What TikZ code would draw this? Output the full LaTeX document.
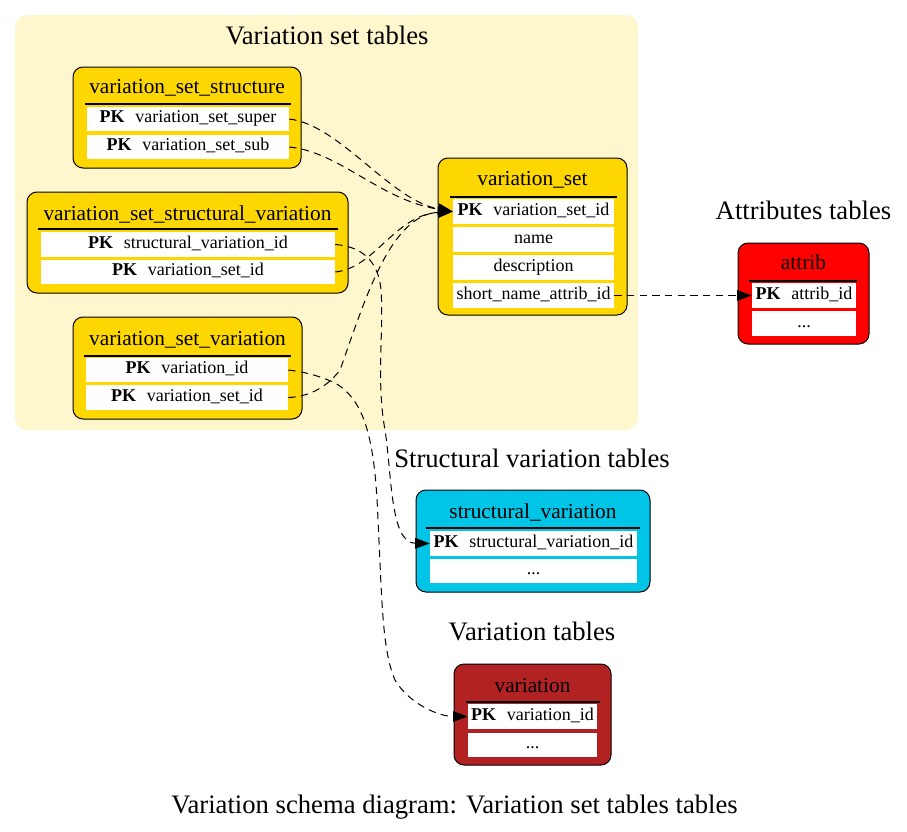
\documentclass[tikz,border=0pt]{standalone}
\usepackage{fontspec}
\setmainfont{Liberation Serif}
\usetikzlibrary{arrows.meta}

\definecolor{clusterbg}{HTML}{FEF7CE}
\definecolor{tgold}{HTML}{FFD700}
\definecolor{tred}{HTML}{FF0000}
\definecolor{tcyan}{HTML}{00C5E6}
\definecolor{tbrick}{HTML}{B22222}

\tikzset{
  tablebox/.style={draw=black, line width=0.75pt, rounded corners=7.5pt, inner sep=0pt},
  fieldcell/.style={fill=white, inner sep=0pt, font=\fontsize{13.5}{16}\selectfont,
    text height=8pt, text depth=2.4pt},
  tabletitle/.style={anchor=base, inner sep=0pt, font=\fontsize{16}{19}\selectfont},
  grouptitle/.style={anchor=base, inner sep=0pt, font=\fontsize{20}{24}\selectfont},
  titlerule/.style={line width=1.1pt},
  fk/.style={line width=0.75pt, dash pattern=on 5.5pt off 4pt,
    -{Triangle[length=11pt,width=8pt]}},
}

% table frame: name, x1, y1, x2, y2, colour (pixel units)
\newcommand\tframe[6]{%
  \node[tablebox, fill=#6, minimum width={(#4-#2)*0.75pt}, minimum height={(#5-#3)*0.75pt}]
    (#1) at ({(#2+#4)/2},{(#3+#5)/2}) {};}
% field cell: name, x1, y1, x2, y2, text
\newcommand\fcell[6]{%
  \node[fieldcell, minimum width={(#4-#2)*0.75pt}, minimum height={(#5-#3)*0.75pt}]
    (#1) at ({(#2+#4)/2},{(#3+#5)/2}) {#6};}
\newcommand\pkey[1]{\textbf{PK}\hspace{0.6em}#1}

\begin{document}
\begin{tikzpicture}[x=0.75pt,y=-0.75pt]
\useasboundingbox (0,0) rectangle (907,832);
\fill[white] (0,0) rectangle (907,832);

% variation set group
\node[fill=clusterbg, rounded corners=9pt, inner sep=0pt,
  minimum width={623*0.75pt}, minimum height={415*0.75pt}] (setgroup) at (326.5,222.5) {};
\node[grouptitle] (lbl-set) at (327,44.5) {Variation set tables};

% variation_set_structure
\tframe{vss}{73}{67}{301}{168}{tgold}
\node[tabletitle] (vss-title) at (187,93) {variation\_set\_structure};
\draw[titlerule] (85,104) -- (291,104);
\fcell{vss-super}{87}{107}{289}{131}{\pkey{variation\_set\_super}}
\fcell{vss-sub}{87}{135}{289}{159}{\pkey{variation\_set\_sub}}

% variation_set_structural_variation
\tframe{vssv}{27}{192}{348}{293}{tgold}
\node[tabletitle] (vssv-title) at (187.5,220) {variation\_set\_structural\_variation};
\draw[titlerule] (38,229) -- (338,229);
\fcell{vssv-sv}{41}{232}{335}{257}{\pkey{structural\_variation\_id}}
\fcell{vssv-set}{41}{260}{335}{284}{\pkey{variation\_set\_id}}

% variation_set_variation
\tframe{vsv}{73}{317}{302}{419}{tgold}
\node[tabletitle] (vsv-title) at (187.5,345) {variation\_set\_variation};
\draw[titlerule] (84,356) -- (291,356);
\fcell{vsv-var}{86}{358}{288}{382}{\pkey{variation\_id}}
\fcell{vsv-set}{86}{385}{288}{410}{\pkey{variation\_set\_id}}

% variation_set
\tframe{vs}{438}{158}{627}{315}{tgold}
\node[tabletitle] (vs-title) at (532.5,185) {variation\_set};
\draw[titlerule] (450,197) -- (617,197);
\fcell{vs-id}{453}{199}{614}{224}{\pkey{variation\_set\_id}}
\fcell{vs-name}{453}{227}{614}{252}{name}
\fcell{vs-desc}{453}{255}{614}{280}{description}
\fcell{vs-attr}{453}{283}{614}{308}{short\_name\_attrib\_id}

% attrib
\node[grouptitle] (lbl-attrib) at (803.5,219.5) {Attributes tables};
\tframe{attrib}{738}{243}{869}{344}{tred}
\node[tabletitle] (attrib-title) at (803.5,269) {attrib};
\draw[titlerule] (749,281) -- (857,281);
\fcell{attrib-id}{752}{283}{856}{308}{\pkey{attrib\_id}}
\fcell{attrib-more}{752}{311}{856}{336}{...}

% structural_variation
\node[grouptitle] (lbl-sv) at (532,467.5) {Structural variation tables};
\tframe{sv}{416}{490}{650}{592}{tcyan}
\node[tabletitle] (sv-title) at (533,518) {structural\_variation};
\draw[titlerule] (426,528) -- (640,528);
\fcell{sv-id}{430}{531}{637}{556}{\pkey{structural\_variation\_id}}
\fcell{sv-more}{430}{559}{637}{583}{...}

% variation
\node[grouptitle] (lbl-var) at (532,640.5) {Variation tables};
\tframe{var}{454}{664}{611}{765}{tbrick}
\node[tabletitle] (var-title) at (532.5,692) {variation};
\draw[titlerule] (466,702) -- (600,702);
\fcell{var-id}{468}{704}{597}{729}{\pkey{variation\_id}}
\fcell{var-more}{468}{733}{597}{757}{...}

\node[grouptitle] (caption) at (454.5,813.5) {Variation schema diagram: Variation set tables tables};

% foreign keys
\draw[fk] (vss-super.east) .. controls (340,125) and (390,200) .. (vs-id.west);
\draw[fk] (vss-sub.east) .. controls (340,152) and (380,200) .. (vs-id.west);
\draw[fk] (vssv-set.east) .. controls (375,268) and (395,215) .. (vs-id.west);
\draw[fk] (vsv-set.east) .. controls (305,397) and (325,390) .. (340,370)
  .. controls (365,300) and (390,215) .. (vs-id.west);
\draw[fk] (vssv-sv.east) .. controls (355,246) and (378,255) .. (381,290)
  .. controls (384,330) and (376,380) .. (385,430)
  .. controls (392,475) and (390,543) .. (sv-id.west);
\draw[fk] (vsv-var.east) .. controls (305,372) and (320,376) .. (335,383)
  .. controls (365,400) and (375,440) .. (378,520)
  .. controls (382,600) and (382,650) .. (395,680)
  .. controls (410,705) and (440,716.5) .. (var-id.west);
\draw[fk] (vs-attr.east) -- (attrib-id.west);
\end{tikzpicture}
\end{document}
